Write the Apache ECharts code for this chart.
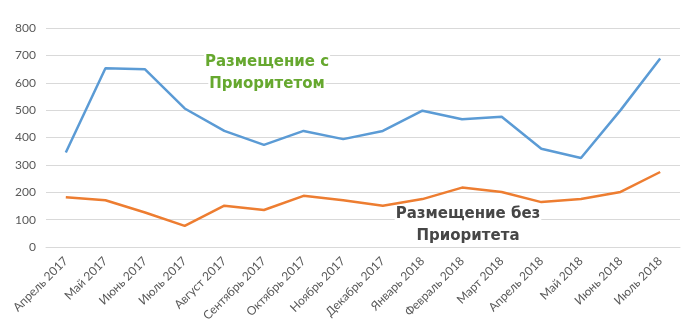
<!DOCTYPE html>
<html><head><meta charset="utf-8">
<script src="https://cdn.jsdelivr.net/npm/echarts@6/dist/echarts.min.js"></script>
<style>html,body{margin:0;padding:0;background:#fff}#c{width:689px;height:331px}</style>
</head><body><div id="c"></div>
<script>
const categories = ['Апрель 2017','Май 2017','Июнь 2017','Июль 2017','Август 2017','Сентябрь 2017','Октябрь 2017','Ноябрь 2017','Декабрь 2017','Январь 2018','Февраль 2018','Март 2018','Апрель 2018','Май 2018','Июнь 2018','Июль 2018'];
const withPriority = [345, 653, 649, 506, 424, 373, 424, 394, 424, 498, 467, 476, 359, 325, 500, 689];
const withoutPriority = [182, 171, 126, 77, 151, 135, 187, 171, 151, 175, 217, 201, 164, 175, 201, 274];
const yTicks = {min: 0, max: 800, interval: 100};
const labelWith = ['Размещение с', 'Приоритетом'];
const labelWithout = ['Размещение без', 'Приоритета'];

function lines(arr, cx, cy, color) {
  return arr.map((t, i) => ({
    type: 'text', x: cx, y: cy + i * 22, z: 100,
    style: {text: t, fill: color, font: 'bold 15px "DejaVu Sans"', textAlign: 'center', textVerticalAlign: 'middle', backgroundColor: '#ffffff', padding: [1, 1]}
  }));
}

const chart = echarts.init(document.getElementById('c'));
chart.setOption({
  animation: false,
  grid: {left: 46, right: 9, top: 28, bottom: 84},
  xAxis: {
    type: 'category', data: categories, boundaryGap: true,
    axisLine: {lineStyle: {color: '#d9d9d9'}},
    axisTick: {show: false},
    axisLabel: {rotate: 45, color: '#595959', fontSize: 12, fontFamily: 'Lato', margin: 12, interval: 0}
  },
  yAxis: {
    type: 'value', min: yTicks.min, max: yTicks.max, interval: yTicks.interval,
    axisLine: {show: false}, axisTick: {show: false},
    axisLabel: {color: '#595959', fontSize: 12, fontFamily: 'Lato', margin: 10},
    splitLine: {lineStyle: {color: '#d9d9d9', width: 1}}
  },
  series: [
    {type: 'line', data: withPriority, symbol: 'none', lineStyle: {color: '#5b9bd5', width: 2.5}, itemStyle: {color: '#5b9bd5'}},
    {type: 'line', data: withoutPriority, symbol: 'none', lineStyle: {color: '#ed7d31', width: 2.5}, itemStyle: {color: '#ed7d31'}}
  ],
  graphic: lines(labelWith, 267, 62, '#66a82f').concat(lines(labelWithout, 468, 214, '#464646'))
});
</script></body></html>
